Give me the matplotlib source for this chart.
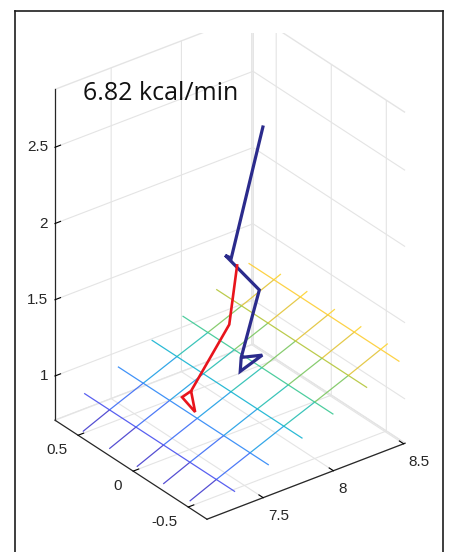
import numpy as np
import matplotlib
matplotlib.use("Agg")
import matplotlib.pyplot as plt
from matplotlib.colors import LinearSegmentedColormap, Normalize
from matplotlib.patches import Rectangle
from matplotlib.lines import Line2D
from mpl_toolkits.mplot3d import proj3d
from mpl_toolkits.mplot3d.art3d import Line3DCollection

# ---------------- data ----------------
x_limits = (7.10, 8.51)
y_limits = (-0.67, 0.71)
z_limits = (0.71, 2.88)
x_ticks = [7.5, 8.0, 8.5]
x_ticklabels = ["7.5", "8", "8.5"]
y_ticks = [-0.5, 0.0, 0.5]
y_ticklabels = ["-0.5", "0", "0.5"]
z_ticks = [1.0, 1.5, 2.0, 2.5]
z_ticklabels = ["1", "1.5", "2", "2.5"]

# mesh plane: nodes along x (with heights) and the y positions of the lines
mesh_x = [7.11, 7.30, 7.54, 7.78, 8.00, 8.24, 8.47, 8.52]
mesh_z = [0.745, 0.82, 0.91, 1.00, 1.08, 1.17, 1.26, 1.28]
mesh_y_lines = [-0.50, -0.26, -0.02, 0.23, 0.47]
mesh_y_span = (-0.67, 0.70)
mesh_clim = (0.74, 1.33)

# trajectories
red_x = [7.841, 7.784, 7.512, 7.448, 7.541, 7.512]
red_y = [0.0, 0.0, 0.0, 0.0, 0.0, 0.0]
red_z = [1.806, 1.430, 1.090, 1.072, 0.942, 1.090]

blue_x = [8.026, 7.798, 7.755, 7.998, 7.869, 7.862, 8.019, 7.869]
blue_y = [0.0, 0.0, 0.0, 0.0, 0.0, 0.0, 0.0, 0.0]
blue_z = [2.650, 1.860, 1.894, 1.581, 1.184, 1.095, 1.146, 1.184]

annotation = "6.82 kcal/min"

# ---------------- figure ----------------
W, H = 449, 552
plt.rcParams["axes.unicode_minus"] = False
plt.rcParams["font.family"] = ["Liberation Sans", "DejaVu Sans"]
plt.rcParams["grid.color"] = "#e4e4e4"
plt.rcParams["grid.linewidth"] = 0.8

fig = plt.figure(figsize=(W / 100, H / 100), dpi=100)
fig.patch.set_facecolor("white")

S0 = 400.0
C0 = (W / 2, H / 2)
ax = fig.add_axes([(C0[0] - S0 / 2) / W, (C0[1] - S0 / 2) / H, S0 / W, S0 / H],
                  projection="3d", proj_type="ortho", computed_zorder=False)
ax.view_init(elev=30, azim=-127.5)
ax.set_box_aspect((1, 1, 1.53))
ax.set_xlim(*x_limits)
ax.set_ylim(*y_limits)
ax.set_zlim(*z_limits)
ax.set_xticks(x_ticks)
ax.set_yticks(y_ticks)
ax.set_zticks(z_ticks)

for axis in (ax.xaxis, ax.yaxis, ax.zaxis):
    axis.set_pane_color((1, 1, 1, 1))
    axis.pane.set_edgecolor("#e4e4e4")
    axis.line.set_color("#262626")
    axis.line.set_linewidth(0.9)
    axis._axinfo["grid"].update(color="#e4e4e4", linewidth=0.8)
    axis._axinfo["tick"].update(inward_factor=0.0, outward_factor=0.35)
    axis._axinfo["tick"]["color"] = "#262626"
    axis.set_tick_params(which="both", labelbottom=False, labelleft=False)

# parula-like colormap
parula = LinearSegmentedColormap.from_list("parula", [
    (0.2422, 0.1504, 0.6603), (0.2810, 0.3228, 0.9579), (0.1786, 0.5289, 0.9682),
    (0.0689, 0.6948, 0.8394), (0.2161, 0.7843, 0.5923), (0.6720, 0.7793, 0.2227),
    (0.9970, 0.7659, 0.2199), (0.9769, 0.9839, 0.0805)])
norm = Normalize(vmin=mesh_clim[0], vmax=mesh_clim[1])

segs, cols = [], []
# lines of constant y (colour changes along x)
for yv in mesh_y_lines:
    for i in range(len(mesh_x) - 1):
        segs.append([(mesh_x[i], yv, mesh_z[i]), (mesh_x[i + 1], yv, mesh_z[i + 1])])
        cols.append(parula(norm(0.5 * (mesh_z[i] + mesh_z[i + 1]))))
# lines of constant x (interior nodes)
for xv, zv in zip(mesh_x[1:-1], mesh_z[1:-1]):
    segs.append([(xv, mesh_y_span[0], zv), (xv, mesh_y_span[1], zv)])
    cols.append(parula(norm(zv)))
mesh = Line3DCollection(segs, colors=cols, linewidths=0.9, alpha=0.9, zorder=2)
ax.add_collection3d(mesh)

ax.plot(blue_x, blue_y, blue_z, color="#2b2b8c", lw=2.3, zorder=3,
        solid_joinstyle="miter", solid_capstyle="butt")
ax.plot(red_x, red_y, red_z, color="#e8141c", lw=1.9, zorder=4,
        solid_joinstyle="miter", solid_capstyle="butt")


def project(pts):
    pts = np.asarray(pts, float)
    M = ax.get_proj()
    px, py, _ = proj3d.proj_transform(pts[:, 0], pts[:, 1], pts[:, 2], M)
    return ax.transData.transform(np.column_stack([px, py]))


# ---- fit the projected box to the target layout ----
fig.canvas.draw()
corner_pts = [[x_limits[0], y_limits[0], z_limits[0]],
              [x_limits[0], y_limits[1], z_limits[0]],
              [x_limits[1], y_limits[0], z_limits[0]],
              [x_limits[0], y_limits[1], z_limits[1]]]
target_img = np.array([[207, 518], [55, 421], [405, 444], [55, 89]], float)
target = np.column_stack([target_img[:, 0], H - target_img[:, 1]])
P = project(corner_pts)
q = (P - np.array(C0)) / S0
A = np.zeros((8, 3)); b = np.zeros(8)
for i in range(4):
    A[2 * i] = [1, 0, q[i, 0]]; b[2 * i] = target[i, 0]
    A[2 * i + 1] = [0, 1, q[i, 1]]; b[2 * i + 1] = target[i, 1]
sol, *_ = np.linalg.lstsq(A, b, rcond=None)
cx, cy, S = sol
ax.set_position([(cx - S / 2) / W, (cy - S / 2) / H, S / W, S / H])
fig.canvas.draw()

# tick labels: anchored at projected points just outside the axis lines
lab_kw = dict(fontsize=11, color="#262626", va="center")
xa = project([[xv, y_limits[0] - 0.045, z_limits[0] - 0.097] for xv in x_ticks])
for (u, v), s in zip(xa, x_ticklabels):
    fig.text(u / W, v / H, s, ha="left", **lab_kw)
ya = project([[x_limits[0] - 0.079, yv, z_limits[0] - 0.072] for yv in y_ticks])
for (u, v), s in zip(ya, y_ticklabels):
    fig.text(u / W, v / H, s, ha="right", **lab_kw)
za = project([[x_limits[0] - 0.032, y_limits[1] + 0.0235, zv] for zv in z_ticks])
for (u, v), s in zip(za, z_ticklabels):
    fig.text(u / W, v / H, s, ha="right", **lab_kw)

# annotation text
fig.text(83 / W, 1 - 100 / H, annotation, family=["Open Sans", "DejaVu Sans"],
         fontsize=18, color="#111111", va="baseline", ha="left")

# top white band (cropped region of the original) and frame
fig.add_artist(Rectangle((17 / W, 1 - 33 / H), (441 - 17) / W, (33 - 11.5) / H,
                         transform=fig.transFigure, facecolor="white",
                         edgecolor="none", zorder=20))
frame_kw = dict(transform=fig.transFigure, color="#1e1e1e", lw=1.2, zorder=30)
fig.add_artist(Line2D([15.5 / W, 15.5 / W], [0, 1 - 10.5 / H], **frame_kw))
fig.add_artist(Line2D([15.5 / W, 442.7 / W], [1 - 10.5 / H, 1 - 10.5 / H], **frame_kw))
fig.add_artist(Line2D([442.7 / W, 442.7 / W], [0, 1 - 10.5 / H], **frame_kw))

fig.savefig("out.png", dpi=100, facecolor="white")
